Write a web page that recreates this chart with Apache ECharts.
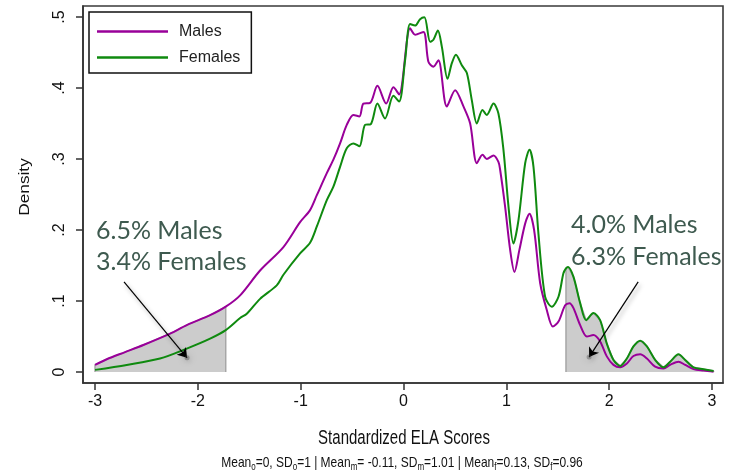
<!DOCTYPE html>
<html>
<head>
<meta charset="utf-8">
<script src="https://cdn.jsdelivr.net/npm/echarts@6/dist/echarts.min.js"></script>
<style>
html,body{margin:0;padding:0;background:#fff;}
#chart{width:732px;height:474px;}
</style>
</head>
<body>
<div id="chart"></div>
<script>
// ---- data ----
const xTicks = [-3, -2, -1, 0, 1, 2, 3];
const yTicks = [0, 0.1, 0.2, 0.3, 0.4, 0.5];
const yTickLabels = ['0', '.1', '.2', '.3', '.4', '.5'];

const malesX = [-3.000,-2.886,-2.708,-2.530,-2.270,-2.108,-1.881,-1.729,-1.589,-1.395,-1.168,-1.006,-0.909,-0.843,-0.746,-0.682,-0.617,-0.552,-0.487,-0.429,-0.390,-0.325,-0.254,-0.169,-0.098,-0.043,0.064,0.113,0.194,0.242,0.291,0.339,0.421,0.502,0.583,0.648,0.713,0.768,0.810,0.875,0.923,0.940,0.988,1.037,1.079,1.127,1.183,1.225,1.270,1.329,1.394,1.452,1.507,1.572,1.614,1.653,1.718,1.783,1.847,1.912,1.977,2.042,2.107,2.172,2.236,2.302,2.367,2.447,2.528,2.593,2.674,2.739,2.820,2.917,3.015];
const malesY = [0.010,0.018,0.028,0.038,0.054,0.066,0.080,0.092,0.108,0.143,0.176,0.211,0.228,0.249,0.280,0.299,0.322,0.348,0.362,0.360,0.378,0.379,0.403,0.378,0.401,0.391,0.484,0.475,0.479,0.437,0.430,0.439,0.374,0.397,0.374,0.350,0.294,0.306,0.300,0.305,0.296,0.2845,0.233,0.172,0.141,0.172,0.209,0.223,0.200,0.125,0.087,0.064,0.071,0.094,0.097,0.090,0.066,0.050,0.052,0.043,0.022,0.010,0.0066,0.012,0.0225,0.025,0.019,0.0075,0.005,0.010,0.0145,0.010,0.004,0.002,0.0005];

const femalesX = [-3.000,-2.692,-2.368,-2.108,-1.881,-1.729,-1.589,-1.524,-1.395,-1.233,-1.168,-1.006,-0.909,-0.843,-0.746,-0.682,-0.617,-0.552,-0.487,-0.429,-0.374,-0.319,-0.254,-0.180,-0.098,-0.043,0.016,0.064,0.113,0.161,0.203,0.259,0.291,0.334,0.373,0.428,0.470,0.510,0.567,0.616,0.664,0.713,0.768,0.810,0.875,0.923,0.972,1.021,1.069,1.118,1.183,1.225,1.264,1.312,1.377,1.442,1.507,1.555,1.580,1.600,1.653,1.718,1.776,1.847,1.912,1.977,2.042,2.107,2.172,2.236,2.302,2.367,2.447,2.528,2.593,2.674,2.739,2.820,2.917,3.015];
const femalesY = [0.003,0.010,0.019,0.033,0.047,0.059,0.076,0.082,0.103,0.122,0.137,0.167,0.182,0.205,0.242,0.261,0.289,0.315,0.322,0.318,0.348,0.349,0.378,0.357,0.389,0.381,0.440,0.490,0.488,0.497,0.4995,0.465,0.468,0.481,0.458,0.413,0.435,0.447,0.432,0.421,0.383,0.350,0.369,0.362,0.378,0.364,0.313,0.233,0.181,0.214,0.294,0.313,0.289,0.195,0.106,0.092,0.106,0.139,0.146,0.148,0.134,0.097,0.073,0.083,0.073,0.040,0.017,0.0085,0.019,0.036,0.044,0.036,0.017,0.0066,0.0145,0.025,0.017,0.0066,0.004,0.0014];

const leftCut = -1.729;   // lower tail cutoff
const rightCut = 1.58;    // upper tail cutoff
const leftNote = ['6.5% Males', '3.4% Females'];
const rightNote = ['4.0% Males', '6.3% Females'];
// arrows in data units: [from, to]
const arrows = [
  [[-2.718, 0.127], [-2.105, 0.020]],
  [[2.282, 0.127], [1.805, 0.021]]
];

// ---- build ----
const males = malesX.map((x, i) => [x, malesY[i]]);
const females = femalesX.map((x, i) => [x, femalesY[i]]);
const leftShade = [[malesX[0], 0]].concat(males.filter(p => p[0] <= leftCut), [[leftCut, 0]]);
const rightShade = [[rightCut, 0]].concat(females.filter(p => p[0] >= rightCut), [[femalesX[femalesX.length - 1], 0]]);

const chart = echarts.init(document.getElementById('chart'), null, {renderer: 'canvas'});
const AX = '#333';
const SANS = '"Liberation Sans", Arial, sans-serif';
const NOTE = 'Lato, "Open Sans", sans-serif';
const noteColor = '#3e5a4f';

const shadeStyle = {
  type: 'line', symbol: 'none', smooth: false, silent: true, z: 1,
  lineStyle: {color: '#a6a6a6', width: 1.5},
  areaStyle: {color: '#cccccc', opacity: 1},
  emphasis: {disabled: true}
};

const option = {
  animation: false,
  backgroundColor: '#fff',
  grid: {left: 83, right: 9, top: 6, bottom: 91, show: true, borderColor: '#3a3a3a', borderWidth: 1.6, backgroundColor: '#fff'},
  legend: {
    data: ['Males', 'Females'],
    orient: 'vertical', left: 89, top: 12,
    padding: [11, 11, 7, 8], itemGap: 9,
    itemWidth: 71, itemHeight: 2.5, icon: 'rect',
    borderColor: '#111', borderWidth: 1.5, backgroundColor: '#fff',
    textStyle: {fontFamily: SANS, fontSize: 16, color: '#222', lineHeight: 17, padding: [0, 0, 0, 6]},
    selectedMode: false
  },
  xAxis: {
    type: 'value', min: -3.117, max: 3.107,
    axisLine: {show: true, onZero: false, lineStyle: {color: AX, width: 1.6}},
    axisTick: {show: true, inside: false, length: 7, lineStyle: {color: AX, width: 1.5}, customValues: xTicks},
    axisLabel: {customValues: xTicks, margin: 11, fontSize: 16, color: '#111', fontFamily: '"Liberation Sans Narrow", ' + SANS, formatter: v => String(v)},
    splitLine: {show: false}
  },
  yAxis: {
    type: 'value', min: -0.0155, max: 0.5155,
    axisLine: {show: true, onZero: false, lineStyle: {color: AX, width: 1.6}},
    axisTick: {show: true, inside: false, length: 7, lineStyle: {color: AX, width: 1.5}, customValues: yTicks},
    axisLabel: {customValues: yTicks, margin: 15, rotate: 90, fontSize: 16, color: '#111', fontFamily: SANS,
      formatter: v => { const i = yTicks.findIndex(t => Math.abs(t - v) < 1e-6); return i >= 0 ? yTickLabels[i] : ''; }},
    splitLine: {show: false}
  },
  series: [
    Object.assign({name: 'lowTail', data: leftShade}, shadeStyle),
    Object.assign({name: 'highTail', data: rightShade}, shadeStyle),
    {
      name: 'Males', type: 'line', data: males, symbol: 'none', smooth: 0.3, z: 3,
      lineStyle: {color: '#990099', width: 2}, itemStyle: {color: '#990099'}
    },
    {
      name: 'Females', type: 'line', data: females, symbol: 'none', smooth: 0.3, z: 4,
      lineStyle: {color: '#0f8a0f', width: 2}, itemStyle: {color: '#0f8a0f'},
      markLine: {
        silent: true, symbol: ['none', 'arrow'], symbolSize: 9, precision: 4,
        label: {show: false},
        lineStyle: {color: '#000', width: 1.2, type: 'solid', shadowBlur: 4, shadowColor: 'rgba(0,0,0,0.35)', shadowOffsetX: 2, shadowOffsetY: 3},
        itemStyle: {color: '#000'},
        emphasis: {disabled: true},
        data: arrows.map(a => [{coord: a[0]}, {coord: a[1]}])
      },
      markPoint: {
        silent: true, symbol: 'circle', symbolSize: 5,
        label: {show: false},
        itemStyle: {color: 'rgba(60,60,60,0.35)', shadowBlur: 8, shadowColor: 'rgba(0,0,0,0.6)'},
        emphasis: {disabled: true},
        data: arrows.map(a => ({coord: a[1]}))
      }
    }
  ],
  graphic: [
    {type: 'text', x: 96, y: 231, style: {text: leftNote[0], font: '25px ' + NOTE, fill: noteColor, align: 'left', verticalAlign: 'middle'}},
    {type: 'text', x: 96, y: 262, style: {text: leftNote[1], font: '25px ' + NOTE, fill: noteColor, align: 'left', verticalAlign: 'middle'}},
    {type: 'text', x: 571, y: 225, style: {text: rightNote[0], font: '25px ' + NOTE, fill: noteColor, align: 'left', verticalAlign: 'middle'}},
    {type: 'text', x: 571, y: 257, style: {text: rightNote[1], font: '25px ' + NOTE, fill: noteColor, align: 'left', verticalAlign: 'middle'}},
    {type: 'text', x: 404, y: 439, scaleY: 1.3, style: {text: 'Standardized ELA Scores', font: '15px ' + SANS, fill: '#111', align: 'center', verticalAlign: 'middle'}},
    {type: 'text', x: 25, y: 187, rotation: Math.PI / 2, scaleX: 1.15, style: {text: 'Density', font: '15px ' + SANS, fill: '#111', align: 'center', verticalAlign: 'middle'}},
    {type: 'text', x: 402, y: 463, scaleY: 1.25, style: {
      text: '{n|Mean}{s|o}{n|=0, SD}{s|o}{n|=1 | Mean}{s|m}{n|= -0.11, SD}{s|m}{n|=1.01 | Mean}{s|f}{n|=0.13, SD}{s|f}{n|=0.96}',
      align: 'center', verticalAlign: 'middle',
      rich: {
        n: {fontFamily: SANS, fontSize: 12, lineHeight: 13, fill: '#111', color: '#111'},
        s: {fontFamily: SANS, fontSize: 8, lineHeight: 9, padding: [7, 0, 0, 0], fill: '#111', color: '#111'}
      }
    }}
  ]
};
chart.setOption(option);
</script>
</body>
</html>
